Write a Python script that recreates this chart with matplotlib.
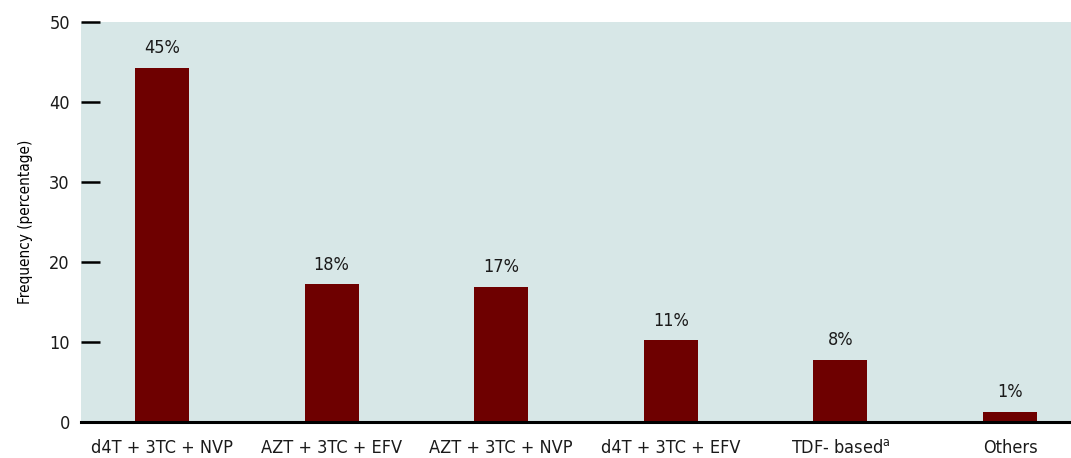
import matplotlib.pyplot as plt
import numpy as np

regimens = ['d4T + 3TC + NVP', 'AZT + 3TC + EFV', 'AZT + 3TC + NVP',
            'd4T + 3TC + EFV', 'TDF- based$^{\\mathrm{a}}$', 'Others']
freq = [44.3, 17.2, 16.9, 10.2, 7.8, 1.3]
labels = ['45%', '18%', '17%', '11%', '8%', '1%']
yticks = [0, 10, 20, 30, 40, 50]

plt.rcParams['font.family'] = ['DejaVu Sans']
plt.rcParams['font.stretch'] = 'condensed'

fig = plt.figure(figsize=(10.71, 4.58), dpi=100)
ax = fig.add_axes([81/1071, 36/458, 990/1071, 400/458])
ax.set_facecolor('#d7e7e7')

x = np.arange(len(regimens))
ax.bar(x, freq, width=0.318, color='#6e0000')
# etiquetas de porcentaje sobre cada barra
for i in range(len(freq)):
    ax.annotate(labels[i], xy=(x[i], freq[i]), xytext=(0, 7.5), textcoords='offset points',
                ha='center', va='bottom', fontsize=13, color='#1a1a1a')

ax.set_xlim(-0.478, 5.36)
ax.set_ylim(0, 50)
ax.set_xticks(x)
ax.set_xticklabels(regimens, fontsize=13, color='#1a1a1a')
ax.set_yticks(yticks)
ax.set_yticklabels([str(t) for t in yticks], fontsize=13, color='#1a1a1a')
ax.tick_params(axis='y', direction='in', length=14, width=1.8, pad=8)
ax.tick_params(axis='x', length=0, pad=12)
ax.set_ylabel('Frequency (percentage)', fontsize=11, labelpad=12)

for s in ['top', 'right', 'left']:
    ax.spines[s].set_visible(False)
ax.spines['bottom'].set_linewidth(2.2)

plt.savefig('out.png', dpi=100)
